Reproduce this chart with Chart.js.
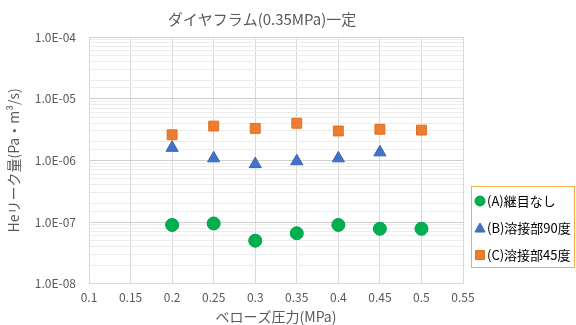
<!DOCTYPE html>
<html>
<head>
<meta charset="utf-8">
<script src="https://cdn.jsdelivr.net/npm/chart.js@4"></script>
<style>
  body { margin: 0; background: #fff; }
  #wrap { width: 576px; height: 325px; }
</style>
</head>
<body>
<div id="wrap"><canvas id="myChart" width="576" height="325"></canvas></div>
<script>
const pressure = [0.2, 0.25, 0.3, 0.35, 0.4, 0.45, 0.5]
const leakA = [9.0e-8, 9.5e-8, 5.0e-8, 6.6e-8, 9.0e-8, 7.8e-8, 7.8e-8]
const leakB = [1.6e-6, 1.08e-6, 8.7e-7, 9.7e-7, 1.08e-6, 1.35e-6]
const leakC = [2.6e-6, 3.6e-6, 3.3e-6, 4.0e-6, 3.0e-6, 3.2e-6, 3.1e-6]
const seriesNames = ['(A)継目なし', '(B)溶接部90度', '(C)溶接部45度']
const xTicks = [0.1, 0.15, 0.2, 0.25, 0.3, 0.35, 0.4, 0.45, 0.5, 0.55]
const chartTitle = 'ダイヤフラム(0.35MPa)一定'

const jp = '"Noto Sans CJK JP", "Open Sans", sans-serif'
const gray = '#595959'

const toPoints = (vals) => vals.map((v, i) => ({ x: pressure[i], y: v }))

// title + boxed legend, drawn by hand
const extras = {
    id: 'extras',
    afterDraw(chart) {
        const ctx = chart.ctx
        ctx.save()
        ctx.fillStyle = gray
        ctx.font = '15px ' + jp
        ctx.textAlign = 'center'
        ctx.textBaseline = 'middle'
        ctx.fillText(chartTitle, 262, 19)

        const left = 471, top = 186, w = 103, h = 81
        ctx.textAlign = 'left'
        ctx.strokeStyle = '#F0B050'
        ctx.lineWidth = 1
        ctx.strokeRect(left + 0.5, top + 0.5, w, h)
        ctx.font = '13px ' + jp
        chart.data.datasets.forEach((ds, i) => {
            const cy = top + 15 + i * 27
            const cx = left + 9
            ctx.fillStyle = ds.backgroundColor
            ctx.strokeStyle = ds.borderColor
            ctx.beginPath()
            if (ds.pointStyle === 'circle') {
                ctx.arc(cx, cy, 5, 0, Math.PI * 2)
            } else if (ds.pointStyle === 'triangle') {
                ctx.moveTo(cx, cy - 5)
                ctx.lineTo(cx + 5, cy + 4)
                ctx.lineTo(cx - 5, cy + 4)
                ctx.closePath()
            } else {
                ctx.rect(cx - 4.5, cy - 4.5, 9, 9)
            }
            ctx.fill()
            ctx.stroke()
            ctx.fillStyle = '#000'
            ctx.fillText(ds.label, cx + 7, cy)
        })
        ctx.restore()
    }
}

let myChart = new Chart(document.getElementById('myChart'), {
    type: 'scatter',
    data: {
        datasets: [{
            label: seriesNames[0],
            data: toPoints(leakA),
            pointStyle: 'circle',
            pointRadius: 6.5,
            backgroundColor: '#00B050',
            borderColor: '#00A048',
            borderWidth: 1
        }, {
            label: seriesNames[1],
            data: toPoints(leakB),
            pointStyle: 'triangle',
            pointRadius: 7,
            backgroundColor: '#4472C4',
            borderColor: '#3A66B5',
            borderWidth: 1
        }, {
            label: seriesNames[2],
            data: toPoints(leakC),
            pointStyle: 'rect',
            pointRadius: 7,
            backgroundColor: '#ED7D31',
            borderColor: '#E07020',
            borderWidth: 1
        }]
    },
    options: {
        responsive: false,
        animation: false,
        layout: { padding: { top: 37, right: 113, left: 5, bottom: 0 } },
        plugins: {
            legend: { display: false },
            tooltip: { enabled: false },
            title: { display: false }
        },
        scales: {
            x: {
                type: 'linear',
                min: 0.1,
                max: 0.55,
                afterBuildTicks: (axis) => { axis.ticks = xTicks.map(v => ({ value: v })) },
                ticks: {
                    color: gray,
                    font: { family: jp, size: 12 },
                    padding: 6,
                    callback: (v) => String(Math.round(v * 100) / 100)
                },
                grid: { color: '#d9d9d9', drawTicks: false },
                border: { color: '#d9d9d9' },
                title: {
                    display: true,
                    text: 'ベローズ圧力(MPa)',
                    color: gray,
                    font: { family: jp, size: 14 },
                    padding: { top: -2, bottom: 0 }
                }
            },
            y: {
                type: 'logarithmic',
                min: 1e-8,
                max: 1e-4,
                ticks: {
                    color: gray,
                    font: { family: jp, size: 12 },
                    padding: 13,
                    autoSkip: false,
                    callback: (v) => {
                        const e = Math.log10(v)
                        if (Math.abs(e - Math.round(e)) > 1e-6) return ''
                        const n = Math.round(e)
                        return '1.0E' + (n < 0 ? '-' : '+') + String(Math.abs(n)).padStart(2, '0')
                    }
                },
                grid: {
                    drawTicks: false,
                    color: (c) => {
                        const e = Math.log10(c.tick.value)
                        return Math.abs(e - Math.round(e)) < 1e-6 ? '#d0d0d0' : '#ececec'
                    }
                },
                border: { color: '#d9d9d9' },
                title: {
                    display: true,
                    text: 'Heリーク量(Pa・m³/s)',
                    color: gray,
                    font: { family: jp, size: 14 },
                    padding: { top: 0, bottom: 0 }
                }
            }
        }
    },
    plugins: [extras]
})
</script>
</body>
</html>
